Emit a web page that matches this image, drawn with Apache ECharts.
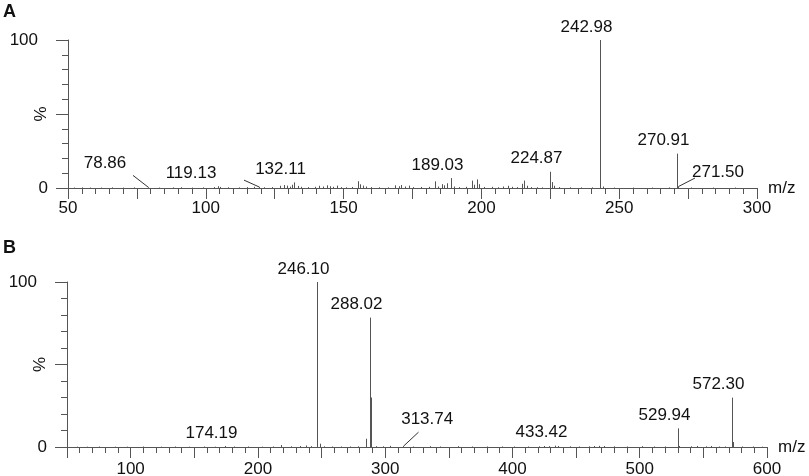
<!DOCTYPE html>
<html><head><meta charset="utf-8">
<script src="https://cdn.jsdelivr.net/npm/echarts@6/dist/echarts.min.js"></script>
<style>html,body{margin:0;padding:0;background:#fff}#c{width:809px;height:476px}</style>
</head><body><div id="c"></div>
<script>
// ---- Panel A data (m/z, relative intensity %) ----
const mzA  = [52,55,58,62,66,70,74,78.86,83,88,91,95,99,103,104.3,105.2,108,112,115,117.5,119.13,121,124,127,128.5,129.6,130.4,131.2,132.11,133.6,134.6,137,139.5,141,142.5,143.8,145,146.2,147.6,149,151,153,155.4,156.1,157,158.2,160,163,166,168.8,170,171,172.2,173.6,175,178,181,183.2,184.3,185.6,186.6,187.6,189.03,190.2,192,194.5,196.6,197.4,198.4,199.3,201,204,206,208,209.5,211,213,214.7,215.6,216.5,218,220,222,224.87,225.6,226.3,228,232,236,240,242.98,244.2,248,255,262,268,270.91,271.50,276,284,292];
const intA = [0.3,0.4,0.3,0.3,0.4,0.3,0.4,0.4,0.3,0.4,0.5,0.3,0.4,0.6,1.2,0.7,0.5,0.4,0.6,0.8,0.6,0.5,0.6,1.5,2.0,1.6,0.9,2.2,3.8,1.4,0.8,0.6,0.8,1.5,1.0,1.8,1.2,0.8,1.6,0.6,0.5,0.7,4.6,2.5,1.6,1.0,0.6,0.5,0.4,1.8,1.2,2.0,1.0,1.6,0.6,0.7,0.8,4.5,1.0,2.6,1.8,3.2,6.7,1.0,0.6,0.8,5.0,2.2,5.8,2.6,0.7,0.8,0.5,1.0,1.5,0.8,0.6,2.8,5.0,1.5,0.6,0.5,0.4,11.0,4.0,1.5,0.6,0.5,0.4,0.4,100,1.0,0.3,0.3,0.3,0.4,23.2,1.0,0.3,0.3,0.3];
const labelsA = [78.86,119.13,132.11,189.03,224.87,242.98,270.91,271.50];

// ---- Panel B data ----
const mzB  = [58,66,75,88,97,110,124,135,146,158,166,174.19,181,192,203,212,218.5,226,233,238,242,246.10,248.6,252,258,265,272,279,285,288.02,288.9,293,298,303.5,313.74,322,335,343,357,368,380,392,401,412,421,425,429,433.42,436,445,452,460,464,468,472,480,490,502,511,520,529.94,531,540,545,552,556,562,567,572.30,573.4,580,589,596];
const intB = [0.2,0.2,0.3,0.2,0.2,0.3,0.2,0.3,0.2,0.3,0.2,0.6,0.3,0.3,0.2,0.3,1.2,0.4,0.6,0.9,0.5,100,2.0,0.4,0.3,0.3,0.3,0.4,5.0,78.4,30.0,0.5,0.4,0.7,0.5,0.3,0.5,0.3,0.5,0.3,0.3,0.3,0.3,0.3,0.4,0.6,0.5,0.8,0.6,0.4,0.3,0.4,0.6,0.7,0.6,0.4,0.3,0.5,0.3,0.3,11.3,0.6,0.4,0.6,0.4,0.6,0.3,0.3,29.9,3.0,0.3,0.3,0.2];
const labelsB = [174.19,246.10,288.02,313.74,433.42,529.94,572.30];

// tick labels
const xLabelsA = [50,100,150,200,250,300];
const xLabelsB = [100,200,300,400,500,600];
const yLabels = [0,100];

// ---- label placement (pixel offsets from peak top), style only ----
const DEF = {dx:-14, dy:-13};
const labelPlace = {
  '78.86':  {dx:-43.5, dy:-24, lx:-15.5, ly:-12},
  '119.13': {dx:-68.5, dy:-14, lx:-15.5, ly:-7},
  '271.50': {dx:39.5, dy:-14, lx:16.5, ly:-8.5},
  '313.74': {dx:23.7, dy:-27, lx:15, ly:-14}
};

const FONT = '"Liberation Sans", Arial, sans-serif';
const FS = 17;
const AX = '#555';

function peakSeries(mz, inten, idx){
  return {
    type:'custom', xAxisIndex:idx, yAxisIndex:idx, silent:true, animation:false,
    data: mz.map((m,i)=>[m, inten[i]]),
    renderItem:(params, api)=>{
      const p0 = api.coord([api.value(0), 0]);
      const p1 = api.coord([api.value(0), api.value(1)]);
      const x = Math.round(p0[0]) + 0.5;
      return {type:'line', shape:{x1:x, y1:p0[1], x2:x, y2:p1[1]}, style:{stroke:'#555', lineWidth:1}};
    }
  };
}
function labelSeries(labels, mz, inten, idx){
  return {
    type:'custom', xAxisIndex:idx, yAxisIndex:idx, silent:true, animation:false, clip:false,
    data: labels.map(l=>[l, inten[mz.indexOf(l)]]),
    renderItem:(params, api)=>{
      const m = api.value(0);
      const top = api.coord([m, api.value(1)]);
      const key = m.toFixed(2);
      const o = labelPlace[key] || DEF;
      const px = Math.round(top[0]) + 0.5;
      const children = [{
        type:'text', x: px + o.dx, y: top[1] + o.dy,
        style:{text:key, fill:'#111', fontSize:FS, fontFamily:FONT, align:'center', verticalAlign:'middle'}
      }];
      if (o.lx !== undefined){
        children.push({type:'line', shape:{x1:px, y1:top[1], x2:px+o.lx, y2:top[1]+o.ly}, style:{stroke:'#333', lineWidth:1}});
      }
      return {type:'group', children};
    }
  };
}
function xAxis(idx, min, max, interval, labels, margin){
  return {
    type:'value', gridIndex:idx, min, max, interval,
    splitLine:{show:false},
    axisLine:{show:true, lineStyle:{color:AX, width:1}},
    axisTick:{show:true, length:11, lineStyle:{color:AX}},
    minorTick:{show:true, splitNumber:5, length:6, lineStyle:{color:AX}},
    axisLabel:{margin, fontSize:FS, fontFamily:FONT, color:'#111', showMinLabel:true, showMaxLabel:true,
      formatter:v=> labels.indexOf(v)>=0 ? String(v) : ''},
    name:'m/z', nameLocation:'end', nameGap:11, nameMoveOverlap:false,
    nameTextStyle:{fontSize:FS, fontFamily:FONT, color:'#111'}
  };
}
function yAxis(idx){
  return {
    type:'value', gridIndex:idx, min:0, max:100, interval:50,
    splitLine:{show:false},
    axisLine:{show:true, lineStyle:{color:AX, width:1}},
    axisTick:{show:true, length:12, lineStyle:{color:AX}},
    minorTick:{show:true, splitNumber:5, length:6, lineStyle:{color:AX}},
    axisLabel:{margin:20, fontSize:FS, fontFamily:FONT, color:'#111',
      formatter:v=> yLabels.indexOf(v)<0 ? '' : (v===100 ? '{p|100}' : String(v)),
      rich:{p:{padding:[0,10,0,0], fontSize:FS, fontFamily:FONT, color:'#111'}}},
    name:'%', nameLocation:'middle', nameGap:18, nameRotate:90, nameMoveOverlap:false,
    nameTextStyle:{fontSize:FS, fontFamily:FONT, color:'#111'}
  };
}

const chart = echarts.init(document.getElementById('c'), null, {renderer:'canvas'});
chart.setOption({
  backgroundColor:'#fff',
  animation:false,
  grid:[
    {left:68, top:40, width:689, height:148, containLabel:false, outerBoundsMode:'none'},
    {left:67, top:282, width:700, height:165, containLabel:false, outerBoundsMode:'none'}
  ],
  xAxis:[xAxis(0,50,300,25,xLabelsA,12), xAxis(1,50,600,50,xLabelsB,14)],
  yAxis:[yAxis(0), yAxis(1)],
  graphic:[
    {type:'text', left:3, top:3, style:{text:'A', fontSize:18, fontWeight:'bold', fontFamily:FONT, fill:'#111'}},
    {type:'text', left:3, top:239, style:{text:'B', fontSize:18, fontWeight:'bold', fontFamily:FONT, fill:'#111'}}
  ],
  series:[
    peakSeries(mzA, intA, 0), labelSeries(labelsA, mzA, intA, 0),
    peakSeries(mzB, intB, 1), labelSeries(labelsB, mzB, intB, 1)
  ]
});
</script></body></html>
